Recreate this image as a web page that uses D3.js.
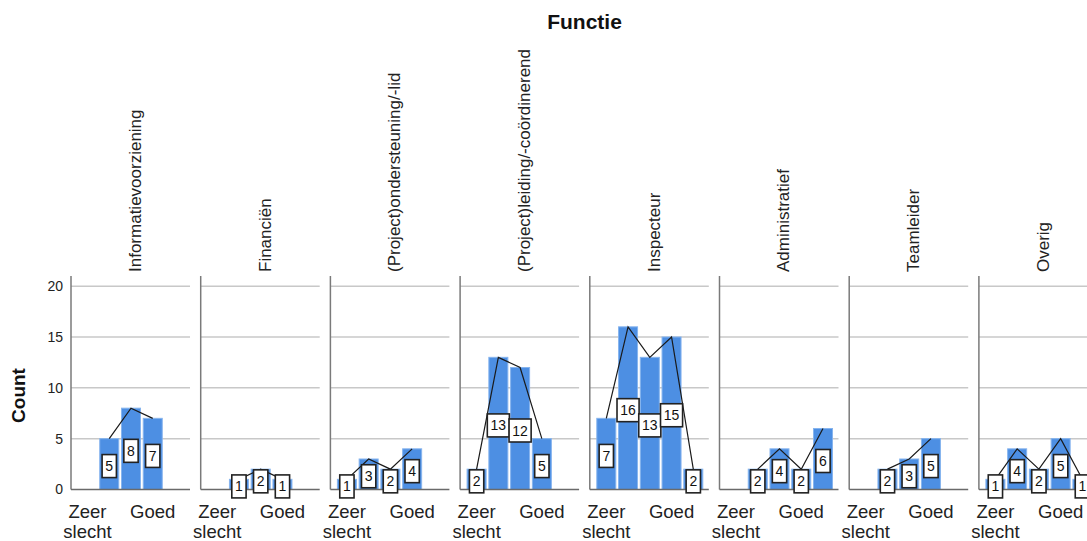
<!DOCTYPE html>
<html><head><meta charset="utf-8">
<script src="https://cdn.jsdelivr.net/npm/d3@7"></script>
<style>body{margin:0;background:#fff}svg{display:block}text{font-family:"Liberation Sans",Arial,sans-serif}</style>
</head><body><svg id="c" width="1087" height="541"></svg>
<script>
const categories = ["Zeer slecht","Slecht","Neutraal","Goed","Zeer goed"];
const shownCategories = ["Zeer slecht","Goed"];
const functies = ["Informatievoorziening","Financiën","(Project)ondersteuning/-lid","(Project)leiding/-coördinerend","Inspecteur","Administratief","Teamleider","Overig"];
const informatievoorziening = [0,5,8,7,0];
const financien = [0,1,2,1,0];
const ondersteuning = [1,3,2,4,0];
const leiding = [2,13,12,5,0];
const inspecteur = [7,16,13,15,2];
const administratief = [0,2,4,2,6];
const teamleider = [0,2,3,5,0];
const overig = [1,4,2,5,1];
const seriesList = [informatievoorziening,financien,ondersteuning,leiding,inspecteur,administratief,teamleider,overig];
const yTicks = [0,5,10,15,20];
const gridTicks = [5,10,15,20];

const svg = d3.select("#c");
const y = d3.scaleLinear().domain([0,21]).range([489.5,276]);
const pitch = 129.7, panelW = 119;
const panel = d3.scaleBand().domain(functies).range([71, 71 + pitch*functies.length]).padding(0);

svg.append("text").attr("x",584.5).attr("y",29).attr("text-anchor","middle")
  .attr("font-size",21).attr("font-weight","bold").attr("fill","#111").text("Functie");
svg.append("text").attr("transform","translate(25,395.5) rotate(-90)").attr("text-anchor","middle")
  .attr("font-size",19).attr("font-weight","bold").attr("fill","#111").text("Count");

functies.forEach((f,i)=>{
  const ax = panel(f);
  const vals = seriesList[i];
  const data = categories.map((c,j)=>({c, v: vals[j]}));
  const x = d3.scaleBand().domain(categories).range([ax+7, ax+113]).paddingInner(0.126).paddingOuter(0);
  const bw = x.bandwidth();
  const g = svg.append("g");

  g.append("text").attr("transform",`translate(${ax+69.8},272) rotate(-90)`)
    .attr("text-anchor","start").attr("font-size",17).attr("fill","#222").text(f);

  g.selectAll("line.grid").data(gridTicks).join("line").attr("class","grid")
    .attr("x1",ax).attr("x2",ax+panelW).attr("y1",d=>y(d)).attr("y2",d=>y(d))
    .attr("stroke","#c8c8c8").attr("stroke-width",1.5);

  g.selectAll("rect.bar").data(data.filter(d=>d.v>0)).join("rect").attr("class","bar")
    .attr("x",d=>x(d.c)).attr("width",bw).attr("y",d=>y(d.v)).attr("height",d=>y(0)-y(d.v))
    .attr("fill","#4d8fe3").attr("stroke","#86b4ee").attr("stroke-width",1);

  g.append("line").attr("x1",ax).attr("x2",ax).attr("y1",y(21)).attr("y2",y(0))
    .attr("stroke","#7a7a7a").attr("stroke-width",1.5);
  g.append("line").attr("x1",ax).attr("x2",ax+panelW).attr("y1",y(0)).attr("y2",y(0))
    .attr("stroke","#6a6a6a").attr("stroke-width",1.5);

  const line = d3.line().defined(d=>d.v>0).x(d=>x(d.c)+bw/2).y(d=>y(d.v));
  g.append("path").datum(data).attr("d",line).attr("fill","none").attr("stroke","#1a1a1a").attr("stroke-width",1.2);

  const lab = g.selectAll("g.lab").data(data.filter(d=>d.v>0)).join("g").attr("class","lab")
    .attr("transform",d=>`translate(${x(d.c)+bw/2},${y(d.v/2)+2})`);
  lab.append("rect").attr("fill","#fff").attr("stroke","#222").attr("stroke-width",1.6);
  lab.append("text").attr("text-anchor","middle").attr("dy","0.36em").attr("font-size",14).attr("fill","#111").text(d=>d.v);
  lab.each(function(){
    const t = d3.select(this).select("text").node();
    const w = t.getComputedTextLength() + 6.5;
    d3.select(this).select("rect").attr("x",-w/2).attr("y",-11.5).attr("width",w).attr("height",23);
  });

  const xa = g.append("g").attr("transform",`translate(0,${y(0)})`)
    .call(d3.axisBottom(x).tickValues(shownCategories).tickSize(0));
  xa.select(".domain").remove();
  xa.selectAll(".tick text").each(function(d){
    const t = d3.select(this).text(null).attr("y",28).attr("dy",0)
      .attr("font-size",18.5).attr("fill","#222").attr("font-family",'"Liberation Sans",Arial,sans-serif');
    d.split(" ").forEach((w,k)=>{
      t.append("tspan").attr("x",0).attr("dy",k===0?0:20).text(w);
    });
  });

  if(i===0){
    const ya = g.append("g").attr("transform",`translate(${ax},0)`)
      .call(d3.axisLeft(y).tickValues(yTicks).tickSize(0).tickPadding(8));
    ya.select(".domain").remove();
    ya.selectAll(".tick text").attr("font-size",14).attr("fill","#222")
      .attr("font-family",'"Liberation Sans",Arial,sans-serif');
  }
});
</script></body></html>
